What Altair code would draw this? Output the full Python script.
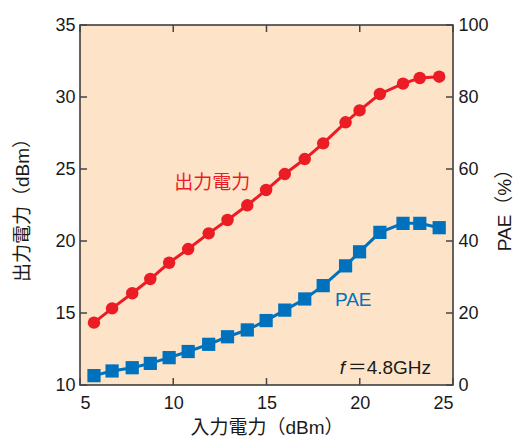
import altair as alt
import pandas as pd

# Data
pin = [5.75, 6.72, 7.8, 8.77, 9.78, 10.8, 11.9, 12.91, 13.97, 14.98,
       15.98, 17.05, 18.04, 19.24, 19.99, 21.08, 22.32, 23.22, 24.26]
pout = [14.33, 15.32, 16.37, 17.36, 18.49, 19.44, 20.53, 21.46, 22.48, 23.54,
        24.65, 25.69, 26.78, 28.24, 29.07, 30.21, 30.93, 31.32, 31.41]
pae = [2.6, 3.9, 4.8, 6.0, 7.6, 9.3, 11.3, 13.4, 15.3, 17.9,
       20.8, 23.9, 27.6, 33.1, 37.0, 42.4, 44.9, 44.9, 43.7]

x_ticks = [5, 10, 15, 20, 25]
left_ticks = [10, 15, 20, 25, 30, 35]
right_ticks = [0, 20, 40, 60, 80, 100]

ann_text = ["出力電力", "PAE"]
ann_x = [12.09, 19.65]
ann_y = [24.03, 15.9]

RED = "#EC1C24"
BLUE = "#0071BC"
BG = "#FDE4C9"
FONT = "Liberation Sans, Noto Sans CJK JP"
TXT = "#1a1a1a"

df = pd.DataFrame({"pin": pin, "pout": pout, "pae": pae})
ann = pd.DataFrame({"t": ann_text, "x": ann_x, "y": ann_y, "c": [RED, BLUE]})
fdf = pd.DataFrame({"x": [19.07], "y": [11.15]})
gdf = pd.DataFrame({"x": [19.35], "y": [11.15]})

xscale = alt.Scale(domain=[5, 25], nice=False, zero=False)
lscale = alt.Scale(domain=[10, 35], nice=False, zero=False)
rscale = alt.Scale(domain=[0, 100], nice=False, zero=False)

common = dict(grid=False, ticks=False, domain=False, labelFontSize=18, titleFontSize=19,
              labelFont=FONT, titleFont=FONT, labelColor=TXT, titleColor=TXT,
              titleFontWeight="normal")
xaxis = alt.Axis(values=x_ticks, title="入力電力（dBm）", labelPadding=9, titlePadding=6, **common)
laxis = alt.Axis(values=left_ticks, title="出力電力（dBm）", labelPadding=5, titlePadding=22, **common)
raxis = alt.Axis(values=right_ticks, title="PAE（%）", orient="right", labelPadding=5,
                 titlePadding=26, titleAngle=270, **common)

base = alt.Chart(df)
x = alt.X("pin:Q", scale=xscale, axis=xaxis)

red_line = base.mark_line(color=RED, strokeWidth=3).encode(
    x=x, y=alt.Y("pout:Q", scale=lscale, axis=laxis))
red_pts = base.mark_circle(color=RED, size=155, opacity=1).encode(
    x=alt.X("pin:Q", scale=xscale), y=alt.Y("pout:Q", scale=lscale))

blue_line = base.mark_line(color=BLUE, strokeWidth=3).encode(
    x=alt.X("pin:Q", scale=xscale), y=alt.Y("pae:Q", scale=rscale, axis=raxis))
blue_pts = base.mark_square(color=BLUE, size=175, opacity=1).encode(
    x=alt.X("pin:Q", scale=xscale), y=alt.Y("pae:Q", scale=rscale))

# inner ticks
xt = pd.DataFrame({"v": x_ticks})
lt = pd.DataFrame({"v": left_ticks})
tick_color = "#444"
top_ticks = alt.Chart(xt).mark_rule(color=tick_color, strokeWidth=1.5).encode(
    x=alt.X("v:Q", scale=xscale), y=alt.value(0), y2=alt.value(7))
bot_ticks = alt.Chart(xt).mark_rule(color=tick_color, strokeWidth=1.5).encode(
    x=alt.X("v:Q", scale=xscale), y=alt.value(360), y2=alt.value(353))
left_t = alt.Chart(lt).mark_rule(color=tick_color, strokeWidth=1.5).encode(
    y=alt.Y("v:Q", scale=lscale), x=alt.value(0), x2=alt.value(7))
right_t = alt.Chart(lt).mark_rule(color=tick_color, strokeWidth=1.5).encode(
    y=alt.Y("v:Q", scale=lscale), x=alt.value(373), x2=alt.value(366))

labels = alt.Chart(ann).mark_text(fontSize=19, font=FONT, align="center", baseline="middle").encode(
    x=alt.X("x:Q", scale=xscale), y=alt.Y("y:Q", scale=lscale),
    text="t:N", color=alt.Color("c:N", scale=None))
f_txt = alt.Chart(fdf).mark_text(text="f", fontSize=19, font=FONT, fontStyle="italic",
                                 align="center", baseline="middle", color=TXT).encode(
    x=alt.X("x:Q", scale=xscale), y=alt.Y("y:Q", scale=lscale))
g_txt = alt.Chart(gdf).mark_text(text="＝4.8GHz", fontSize=19, font=FONT,
                                 align="left", baseline="middle", color=TXT).encode(
    x=alt.X("x:Q", scale=xscale), y=alt.Y("y:Q", scale=lscale))

left_layer = alt.layer(left_t, right_t, top_ticks, bot_ticks, red_line, red_pts, labels, f_txt, g_txt)
right_layer = alt.layer(blue_line, blue_pts)

chart = alt.layer(left_layer, right_layer).resolve_scale(y="independent").properties(
    width=373, height=360,
    autosize=alt.AutoSizeParams(type="none"),
    padding={"left": 80, "top": 25, "right": 70, "bottom": 57},
    background="white",
).configure_view(fill=BG, stroke="#333", strokeWidth=1.5)

chart.save("out.html", embed_options={"renderer": "svg", "actions": False})
